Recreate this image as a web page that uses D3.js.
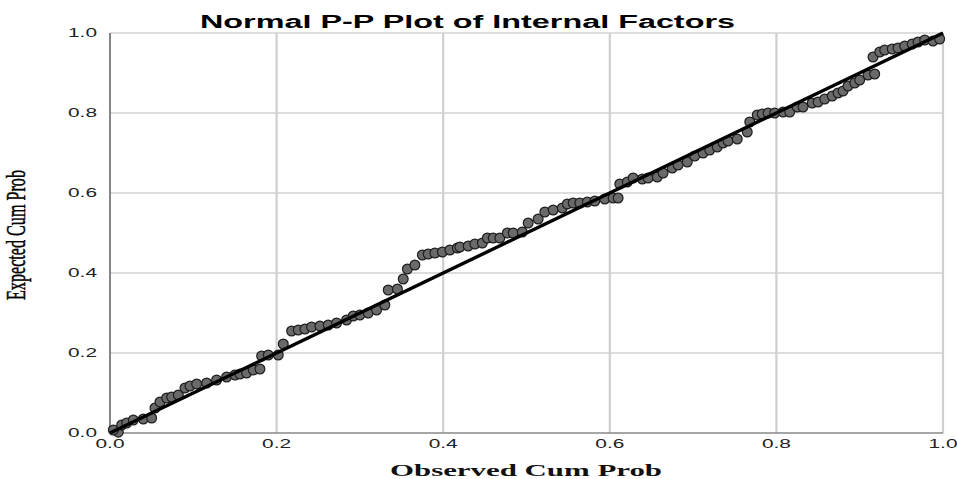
<!DOCTYPE html>
<html>
<head>
<meta charset="utf-8">
<script src="https://cdn.jsdelivr.net/npm/d3@7"></script>
<style>
  body { margin: 0; background: #fff; }
  svg { display: block; }
</style>
</head>
<body>
<div id="chart"></div>
<script>
// Normal P-P plot

const observed = [0.01, 0.004, 0.014, 0.02, 0.028, 0.04, 0.05, 0.054, 0.06, 0.068, 0.074, 0.082, 0.09, 0.096,
  0.104, 0.116, 0.128, 0.14, 0.15, 0.156, 0.164, 0.172, 0.18, 0.182, 0.19, 0.202, 0.208, 0.218, 0.226, 0.234,
  0.242, 0.252, 0.262, 0.272, 0.284, 0.292, 0.3, 0.31, 0.32, 0.33, 0.334, 0.345, 0.352, 0.357, 0.366, 0.375,
  0.382, 0.39, 0.399, 0.408, 0.417, 0.42, 0.43, 0.438, 0.447, 0.453, 0.46, 0.468, 0.477, 0.484, 0.495, 0.502,
  0.514, 0.522, 0.532, 0.543, 0.549, 0.556, 0.564, 0.573, 0.582, 0.594, 0.604, 0.61, 0.612, 0.621, 0.628,
  0.639, 0.646, 0.657, 0.664, 0.675, 0.682, 0.693, 0.702, 0.712, 0.72, 0.729, 0.736, 0.742, 0.753, 0.765,
  0.768, 0.777, 0.783, 0.79, 0.798, 0.808, 0.816, 0.825, 0.832, 0.843, 0.85, 0.858, 0.867, 0.874, 0.88,
  0.886, 0.894, 0.9, 0.91, 0.918, 0.916, 0.924, 0.93, 0.939, 0.946, 0.954, 0.963, 0.97, 0.978, 0.988, 0.996];

const expected = [0.002, 0.0075, 0.02, 0.025, 0.0325, 0.035, 0.0375, 0.0625, 0.0775, 0.0875, 0.09, 0.095, 0.1125, 0.1175,
  0.1225, 0.125, 0.1325, 0.14, 0.145, 0.1475, 0.15, 0.1575, 0.16, 0.1925, 0.195, 0.195, 0.2225, 0.255, 0.2575, 0.26,
  0.265, 0.2675, 0.27, 0.275, 0.2825, 0.2925, 0.295, 0.3, 0.3075, 0.32, 0.3575, 0.36, 0.385, 0.41, 0.42, 0.445,
  0.4475, 0.45, 0.4525, 0.4575, 0.4625, 0.465, 0.4675, 0.4725, 0.475, 0.4875, 0.4875, 0.4875, 0.5, 0.5, 0.5025, 0.525,
  0.535, 0.5525, 0.5575, 0.5625, 0.5725, 0.575, 0.575, 0.5775, 0.58, 0.585, 0.5875, 0.5875, 0.6225, 0.6275, 0.6375,
  0.635, 0.6375, 0.64, 0.65, 0.6625, 0.67, 0.6775, 0.6925, 0.7, 0.7075, 0.715, 0.725, 0.73, 0.735, 0.7525,
  0.7775, 0.795, 0.7975, 0.8, 0.8, 0.8025, 0.8025, 0.815, 0.815, 0.825, 0.8275, 0.835, 0.8425, 0.85, 0.855,
  0.8675, 0.875, 0.8825, 0.895, 0.8975, 0.94, 0.9525, 0.9575, 0.96, 0.9625, 0.9675, 0.9725, 0.9775, 0.9825, 0.98, 0.985];

const tickValues = [0, 0.2, 0.4, 0.6, 0.8, 1.0];

const title = "Normal P-P Plot of Internal Factors";
const xTitle = "Observed Cum Prob";
const yTitle = "Expected Cum Prob";

const W = 957, H = 479;
const margin = { top: 33, right: 14, bottom: 46, left: 110 };

const svg = d3.select("#chart").append("svg")
  .attr("width", W)
  .attr("height", H);

const x = d3.scaleLinear().domain([0, 1]).range([margin.left, W - margin.right]);
const y = d3.scaleLinear().domain([0, 1]).range([H - margin.bottom, margin.top]);

// grid
svg.append("g")
  .selectAll("line")
  .data(tickValues.slice(1))
  .join("line")
  .attr("x1", x(0)).attr("x2", x(1))
  .attr("y1", d => y(d)).attr("y2", d => y(d))
  .attr("stroke", "#d2d2d2")
  .attr("stroke-width", 1.3);

svg.append("g")
  .selectAll("line")
  .data(tickValues.slice(1))
  .join("line")
  .attr("x1", d => x(d)).attr("x2", d => x(d))
  .attr("y1", y(0)).attr("y2", y(1))
  .attr("stroke", "#cfcfcf")
  .attr("stroke-width", 2.2);

// axis lines
svg.append("line")
  .attr("x1", x(0)).attr("x2", x(0))
  .attr("y1", y(0)).attr("y2", y(1))
  .attr("stroke", "#666").attr("stroke-width", 1.6);
svg.append("line")
  .attr("x1", x(0)).attr("x2", x(1))
  .attr("y1", y(0)).attr("y2", y(0))
  .attr("stroke", "#888").attr("stroke-width", 1.4);

// tick labels (the picture is stretched sideways, so the labels are too)
svg.append("g")
  .selectAll("text")
  .data(tickValues)
  .join("text")
  .attr("x", x(0) - 13)
  .attr("y", d => y(d) + 4)
  .attr("text-anchor", "end")
  .attr("textLength", 29)
  .attr("lengthAdjust", "spacingAndGlyphs")
  .style("font", "12px 'Liberation Sans', Arial, sans-serif")
  .style("fill", "#222")
  .text(d => d.toFixed(1));

svg.append("g")
  .selectAll("text")
  .data(tickValues)
  .join("text")
  .attr("x", d => x(d) - 14.5)
  .attr("y", y(0) + 15)
  .attr("textLength", 29)
  .attr("lengthAdjust", "spacingAndGlyphs")
  .style("font", "12px 'Liberation Sans', Arial, sans-serif")
  .style("fill", "#222")
  .text(d => d.toFixed(1));

// points
const pts = observed.map((d, i) => ({ obs: d, exp: expected[i] }));
svg.append("g")
  .selectAll("circle")
  .data(pts)
  .join("circle")
  .attr("cx", d => x(d.obs))
  .attr("cy", d => y(d.exp))
  .attr("r", 4.9)
  .attr("fill", "#6a6a6a")
  .attr("stroke", "#1e1e1e")
  .attr("stroke-width", 1.2);

// reference line
svg.append("line")
  .attr("x1", x(0)).attr("y1", y(0))
  .attr("x2", x(1)).attr("y2", y(1))
  .attr("stroke", "#000")
  .attr("stroke-width", 3.4);

// titles
svg.append("text")
  .attr("x", 200)
  .attr("y", 28)
  .attr("textLength", 535)
  .attr("lengthAdjust", "spacingAndGlyphs")
  .style("font", "bold 18px 'Liberation Sans', Arial, sans-serif")
  .style("fill", "#000")
  .text(title);

svg.append("text")
  .attr("x", 390)
  .attr("y", 476)
  .attr("textLength", 272)
  .attr("lengthAdjust", "spacingAndGlyphs")
  .style("font", "bold 16px 'Liberation Serif', 'Times New Roman', serif")
  .style("fill", "#111")
  .text(xTitle);

svg.append("text")
  .attr("transform", "translate(25,235) scale(1.7,1) rotate(-90)")
  .attr("text-anchor", "middle")
  .attr("textLength", 130)
  .attr("lengthAdjust", "spacingAndGlyphs")
  .style("font", "16px 'Liberation Serif', 'Times New Roman', serif")
  .style("fill", "#000")
  .style("stroke", "#000")
  .style("stroke-width", 0.3)
  .text(yTitle);
</script>
</body>
</html>
